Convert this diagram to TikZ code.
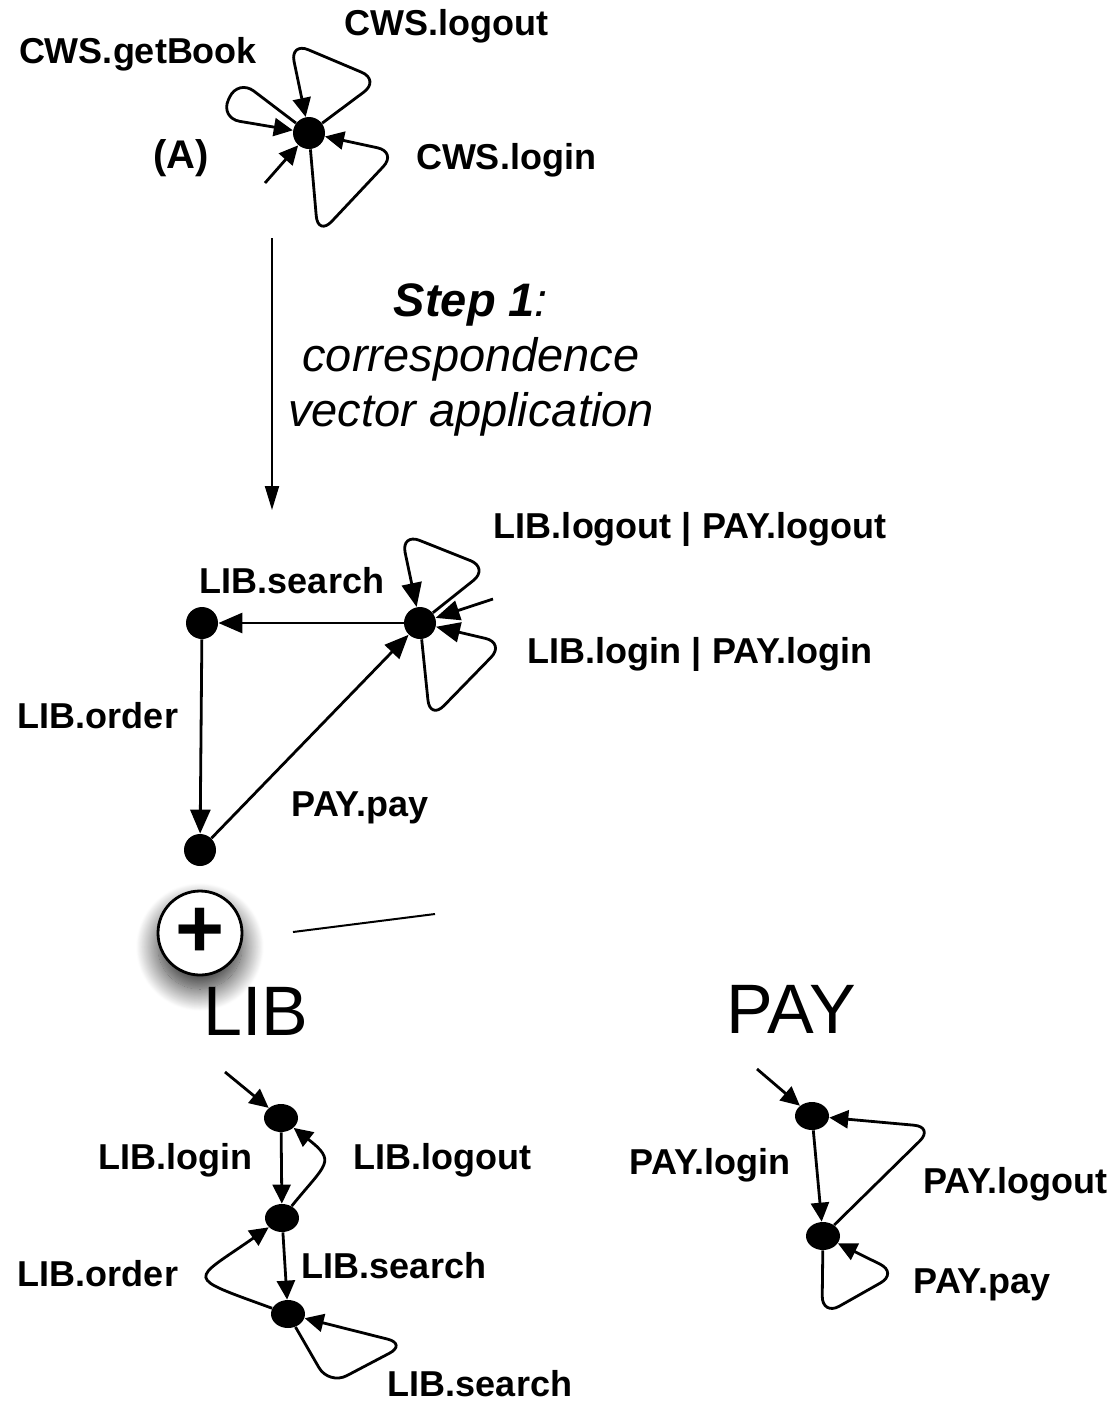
\documentclass[tikz,border=0pt]{standalone}
\usepackage{fontspec}
\setmainfont{Liberation Sans}
\usepackage{tikz}
\usetikzlibrary{arrows.meta,shapes.geometric,shadows.blur}
\tikzset{
  estado/.style={circle,fill=black,inner sep=0pt,minimum size=16pt},
  estadoel/.style={ellipse,fill=black,inner sep=0pt,minimum width=17pt,
    minimum height=14pt},
  rotulo/.style={inner sep=0pt,text height=0.72em,text depth=0.21em,
    font=\fontsize{18}{20}\selectfont\bfseries},
  titulo/.style={inner sep=0pt,text height=0.72em,text depth=0pt,
    font=\fontsize{35}{40}\selectfont},
  seta/.style={-{Triangle[length=9.5pt,width=9pt]},line width=1.4pt},
  setag/.style={-{Triangle[length=12pt,width=10pt]},line width=1.4pt},
  laco/.style={rounded corners=10pt},
  passo/.style={-{Triangle[length=12pt,width=7pt]},line width=1pt},
  soma/.style={circle,draw=black,line width=1.4pt,fill=white,minimum size=42pt,
    inner sep=0pt,font=\fontsize{42}{42}\selectfont\bfseries,
    blur shadow={shadow xshift=0pt,shadow yshift=-7pt,shadow blur radius=11pt,
      shadow blur steps=30,shadow opacity=85}}
}

\begin{document}
\begin{tikzpicture}[x=0.5pt,y=0.5pt]
  \useasboundingbox (0,0) rectangle (1118,-1405);

  % automato A
  \node[estado] (A) at (309,-133) {};
  \coordinate (iniA) at (265,-183);
  \coordinate (gb1) at (238,-79);
  \coordinate (gb2) at (220,-118);
  \coordinate (lo1) at (380,-80);
  \coordinate (lo2) at (290,-42);
  \coordinate (li1) at (318,-236);
  \coordinate (li2) at (397,-152);
  \draw[seta] (iniA) -- (A);
  \draw[seta,laco] (A) -- (gb1) -- (gb2) -- (A);
  \draw[seta,laco] (A) -- (lo1) -- (lo2) -- (A);
  \draw[seta,laco] (A) -- (li1) -- (li2) -- (A);
  \node[rotulo] (gb) at (138,-58) {CWS.getBook};
  \node[rotulo] (lo) at (446,-30) {CWS.logout};
  \node[rotulo] (li) at (506,-164) {CWS.login};
  \node[rotulo,font=\fontsize{20}{22}\selectfont\bfseries] (nA) at (181,-163) {(A)};

  % passo 1
  \coordinate (p0) at (272,-238);
  \coordinate (p1) at (272,-510);
  \draw[passo] (p0) -- (p1);
  \node[anchor=north,inner sep=0pt,align=center,
    font=\fontsize{23.5}{27.5}\selectfont\itshape] (passo1) at (471,-283)
    {\textbf{Step 1}:\\correspondence\\vector application};

  % automato intermediario
  \node[estado] (s1) at (420,-623) {};
  \node[estado] (s2) at (202,-623) {};
  \node[estado] (s3) at (200,-850) {};
  \coordinate (ini1) at (493,-599);
  \coordinate (m1) at (489,-568);
  \coordinate (m2) at (401,-533);
  \coordinate (m3) at (430,-720);
  \coordinate (m4) at (505,-643);
  \draw[setag] (ini1) -- (s1);
  \draw[setag] (s1) -- (s2);
  \draw[setag] (s2) -- (s3);
  \draw[setag] (s3) -- (s1);
  \draw[setag,laco] (s1) -- (m1) -- (m2) -- (s1);
  \draw[setag,laco] (s1) -- (m3) -- (m4) -- (s1);
  \node[rotulo] (r1) at (292,-588) {LIB.search};
  \node[rotulo] (r2) at (98,-723) {LIB.order};
  \node[rotulo] (r3) at (360,-811) {PAY.pay};
  \node[rotulo] (r4) at (690,-533) {LIB.logout | PAY.logout};
  \node[rotulo] (r5) at (700,-658) {LIB.login | PAY.login};

  % composicao
  \node[soma] (mais) at (200,-933) {+};
  \coordinate (t0) at (293,-932);
  \coordinate (t1) at (435,-914);
  \draw[line width=1pt] (t0) -- (t1);

  % LIB
  \node[titulo] (tlib) at (256,-1028) {LIB};
  \node[estadoel] (l1) at (281,-1118) {};
  \node[estadoel] (l2) at (282,-1218) {};
  \node[estadoel] (l3) at (288,-1314) {};
  \coordinate (inil) at (225,-1072);
  \coordinate (k1) at (329,-1385);
  \coordinate (k2) at (407,-1344);
  \draw[seta] (inil) -- (l1);
  \draw[seta] (l1) -- (l2);
  \draw[seta] (l2) to[out=51,in=-38,looseness=1.8] (l1);
  \draw[seta] (l2) -- (l3);
  \draw[seta] (l3) to[out=160,in=215,looseness=3] (l2);
  \draw[seta,laco] (l3) -- (k1) -- (k2) -- (l3);
  \node[rotulo] (q1) at (175,-1164) {LIB.login};
  \node[rotulo] (q2) at (442,-1164) {LIB.logout};
  \node[rotulo] (q3) at (394,-1273) {LIB.search};
  \node[rotulo] (q4) at (98,-1281) {LIB.order};
  \node[rotulo] (q5) at (480,-1391) {LIB.search};

  % PAY
  \node[titulo] (tpay) at (791,-1026) {PAY};
  \node[estadoel] (y1) at (812,-1116) {};
  \node[estadoel] (y2) at (823,-1236) {};
  \coordinate (iniy) at (757,-1069);
  \coordinate (v1) at (934,-1127);
  \coordinate (v2) at (822,-1316);
  \coordinate (v3) at (898,-1273);
  \draw[seta] (iniy) -- (y1);
  \draw[seta] (y1) -- (y2);
  \draw[seta,laco] (y2) -- (v1) -- (y1);
  \draw[seta,laco] (y2) -- (v2) -- (v3) -- (y2);
  \node[rotulo] (w1) at (710,-1169) {PAY.login};
  \node[rotulo] (w2) at (1015,-1188) {PAY.logout};
  \node[rotulo] (w3) at (982,-1288) {PAY.pay};
\end{tikzpicture}
\end{document}
